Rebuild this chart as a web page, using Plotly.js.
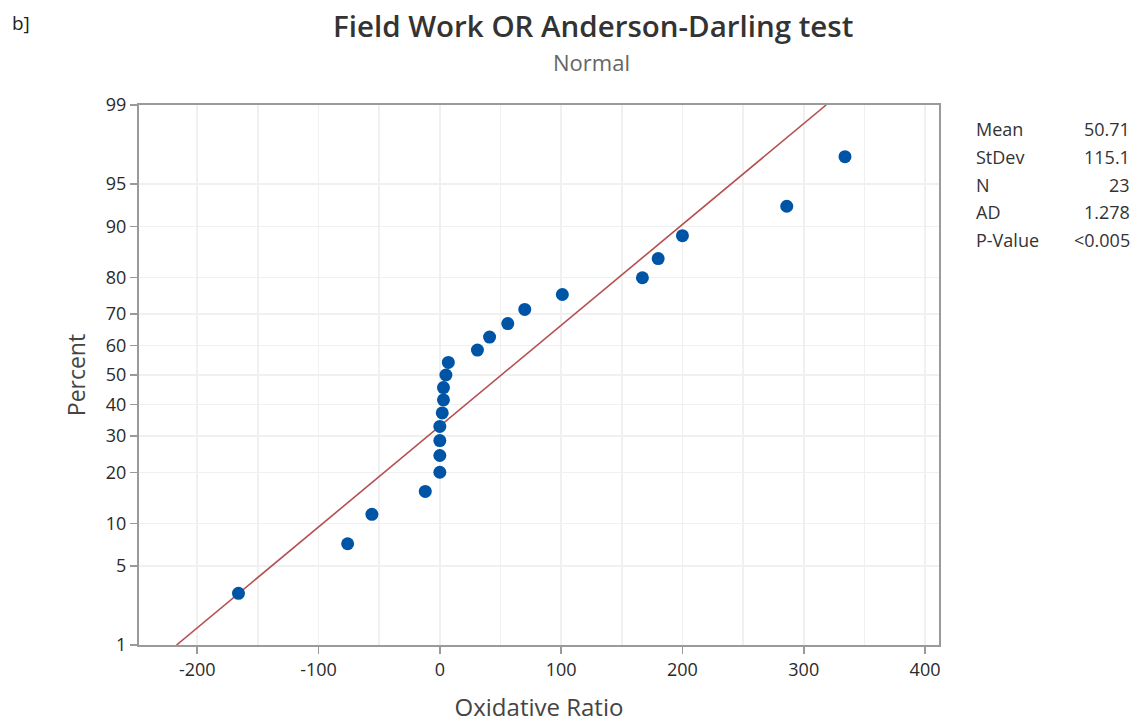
<!DOCTYPE html>
<html>
<head>
<meta charset="utf-8">
<script src="https://cdn.plot.ly/plotly-3.0.1.min.js"></script>
<style>html,body{margin:0;padding:0;background:#fff;}#chart{width:1139px;height:726px;}</style>
</head>
<body>
<div id="chart"></div>
<script>
// Data
const oxidativeRatio = [-166, -76, -56, -12, 0, 0, 0, 0, 2, 3, 3, 5, 7, 31, 41, 56, 70, 101, 167, 180, 200, 286, 334];
const percentRank = [3.0, 7.3, 11.5, 15.8, 20.1, 24.4, 28.6, 32.9, 37.2, 41.5, 45.7, 50.0, 54.3, 58.5, 62.8, 67.1, 71.4, 75.6, 79.9, 84.2, 88.5, 92.7, 97.0];
const percentTicks = [1, 5, 10, 20, 30, 40, 50, 60, 70, 80, 90, 95, 99];
const xTicks = [-200, -100, 0, 100, 200, 300, 400];
const statLabels = ["Mean", "StDev", "N", "AD", "P-Value"];
const statValues = ["50.71", "115.1", "23", "1.278", "<0.005"];
const fitMean = 50.71;
const fitStDev = 115.1;

// normal probability scale (inverse standard normal CDF)
function probit(p) {
  const a = [-3.969683028665376e+01, 2.209460984245205e+02, -2.759285104469687e+02, 1.383577518672690e+02, -3.066479806614716e+01, 2.506628277459239e+00];
  const b = [-5.447609879822406e+01, 1.615858368580409e+02, -1.556989798598866e+02, 6.680131188771972e+01, -1.328068155288572e+01];
  const c = [-7.784894002430293e-03, -3.223964580411365e-01, -2.400758277161838e+00, -2.549732539343734e+00, 4.374664141464968e+00, 2.938163982698783e+00];
  const d = [7.784695709041462e-03, 3.224671290700398e-01, 2.445134137142996e+00, 3.754408661907416e+00];
  const pl = 0.02425, ph = 1 - pl;
  let q, r;
  if (p < pl) {
    q = Math.sqrt(-2 * Math.log(p));
    return (((((c[0]*q+c[1])*q+c[2])*q+c[3])*q+c[4])*q+c[5]) / ((((d[0]*q+d[1])*q+d[2])*q+d[3])*q+1);
  } else if (p <= ph) {
    q = p - 0.5; r = q*q;
    return (((((a[0]*r+a[1])*r+a[2])*r+a[3])*r+a[4])*r+a[5])*q / (((((b[0]*r+b[1])*r+b[2])*r+b[3])*r+b[4])*r+1);
  } else {
    q = Math.sqrt(-2 * Math.log(1 - p));
    return -(((((c[0]*q+c[1])*q+c[2])*q+c[3])*q+c[4])*q+c[5]) / ((((d[0]*q+d[1])*q+d[2])*q+d[3])*q+1);
  }
}
const zOf = pc => probit(pc / 100);

const zLo = zOf(percentTicks[0]);
const zHi = zOf(percentTicks[percentTicks.length - 1]);

const FONT = "Open Sans, Noto Sans, sans-serif";
const grid = "#f0f0f0";
const axisCol = "#9a9a9a";

const traces = [
  {
    x: [fitMean + fitStDev * zLo, fitMean + fitStDev * zHi],
    y: [zLo, zHi],
    mode: "lines",
    line: { color: "#b5504f", width: 1.6 },
    hoverinfo: "skip",
    showlegend: false
  },
  {
    x: oxidativeRatio,
    y: percentRank.map(zOf),
    mode: "markers",
    marker: { color: "#0054a6", size: 13, symbol: "circle", line: { width: 0 } },
    text: percentRank.map(v => v + "%"),
    showlegend: false
  }
];

const annotations = [
  { text: "b]", xref: "paper", yref: "paper", x: -0.161, y: 1.152, xanchor: "left", yanchor: "middle", showarrow: false, font: { family: FONT, size: 19, color: "#222" } },
  { text: "Field Work OR Anderson-Darling test", xref: "paper", yref: "paper", x: 0.568, y: 1.1463, xanchor: "center", yanchor: "middle", showarrow: false, font: { family: FONT, size: 29.5, color: "#333", weight: 600 } },
  { text: "Normal", xref: "paper", yref: "paper", x: 0.565, y: 1.0796, xanchor: "center", yanchor: "middle", showarrow: false, font: { family: FONT, size: 22, color: "#666" } }
];
const rowY = [129, 157, 185, 212, 240];
statLabels.forEach((lab, i) => {
  const py = (645 - rowY[i]) / 540;
  annotations.push({ text: lab, xref: "paper", yref: "paper", x: (974 - 139) / 800, y: py, xanchor: "left", yanchor: "middle", showarrow: false, font: { family: FONT, size: 18, color: "#333" } });
  annotations.push({ text: statValues[i], xref: "paper", yref: "paper", x: (1132 - 139) / 800, y: py, xanchor: "right", yanchor: "middle", showarrow: false, font: { family: FONT, size: 18, color: "#333" } });
});

const layout = {
  width: 1139, height: 726,
  margin: { l: 139, r: 200, t: 105, b: 81 },
  paper_bgcolor: "#fff", plot_bgcolor: "#fff",
  font: { family: FONT, color: "#333" },
  showlegend: false,
  xaxis: {
    range: [-248, 411.5],
    tickmode: "array", tickvals: xTicks, ticktext: xTicks.map(String),
    ticks: "outside", ticklen: 7, tickwidth: 1.5, tickcolor: axisCol,
    showline: true, mirror: true, linecolor: axisCol, linewidth: 2,
    showgrid: true, gridcolor: grid, gridwidth: 1.5,
    minor: { tickmode: "linear", tick0: 0, dtick: 50, showgrid: true, gridcolor: grid, gridwidth: 1.5, ticks: "" },
    zeroline: false,
    tickfont: { family: FONT, size: 18, color: "#2a2a2a" },
    title: { text: "Oxidative Ratio", font: { family: FONT, size: 24, color: "#444" }, standoff: 20 }
  },
  yaxis: {
    range: [zLo, zHi],
    tickmode: "array", tickvals: percentTicks.map(zOf), ticktext: percentTicks.map(String),
    ticks: "outside", ticklen: 7, tickwidth: 1.5, tickcolor: axisCol,
    showline: true, mirror: true, linecolor: axisCol, linewidth: 2,
    showgrid: true, gridcolor: grid, gridwidth: 1.5,
    zeroline: false,
    tickfont: { family: FONT, size: 18, color: "#2a2a2a" },
    title: { text: "Percent", font: { family: FONT, size: 23, color: "#444" }, standoff: 14 }
  },
  annotations: annotations
};

Plotly.newPlot("chart", traces, layout, { displayModeBar: false, staticPlot: true });
</script>
</body>
</html>
